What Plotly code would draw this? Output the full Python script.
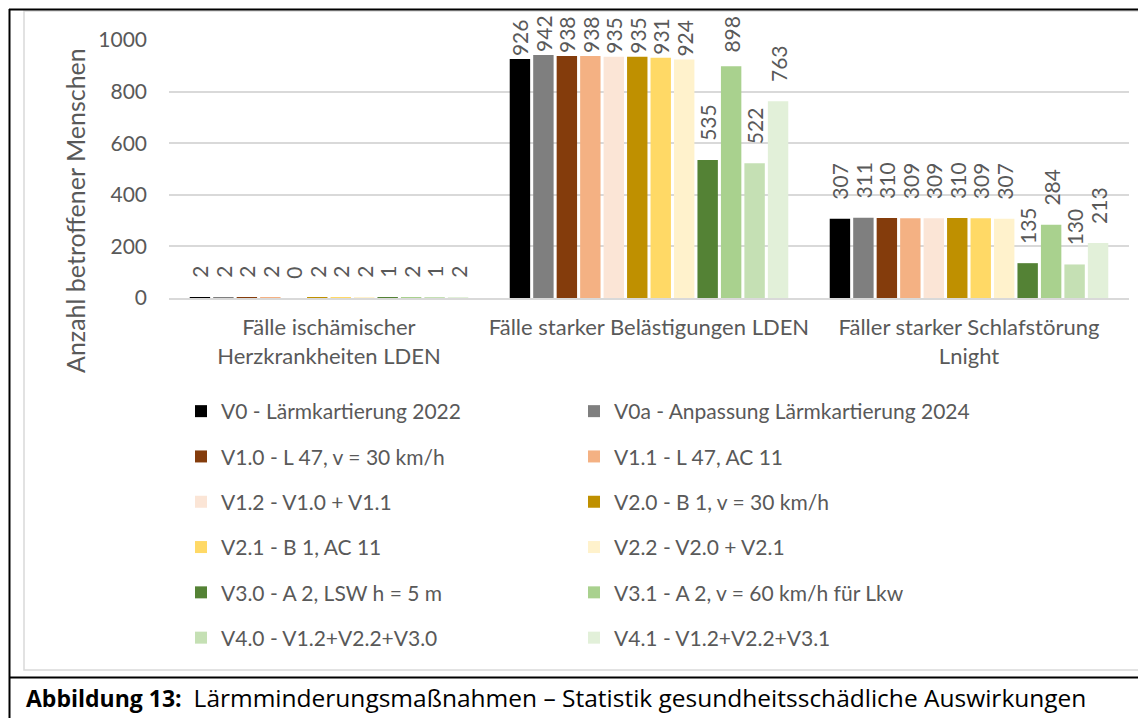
import plotly.graph_objects as go

W, H = 1138, 718

categories = [
    "Fälle ischämischer<br>Herzkrankheiten LDEN",
    "Fälle starker Belästigungen LDEN",
    "Fäller starker Schlafstörung<br>Lnight",
]
series_names = [
    "V0 - Lärmkartierung 2022",
    "V0a - Anpassung Lärmkartierung 2024",
    "V1.0 - L 47, v = 30 km/h",
    "V1.1 - L 47, AC 11",
    "V1.2 - V1.0 + V1.1",
    "V2.0 - B 1, v = 30 km/h",
    "V2.1 - B 1, AC 11",
    "V2.2 - V2.0 + V2.1",
    "V3.0 - A 2, LSW h = 5 m",
    "V3.1 - A 2, v = 60 km/h für Lkw",
    "V4.0 - V1.2+V2.2+V3.0",
    "V4.1 - V1.2+V2.2+V3.1",
]
herz = [2, 2, 2, 2, 0, 2, 2, 2, 1, 2, 1, 2]
belaest = [926, 942, 938, 938, 935, 935, 931, 924, 535, 898, 522, 763]
schlaf = [307, 311, 310, 309, 309, 310, 309, 307, 135, 284, 130, 213]
colors = [
    "#000000", "#7f7f7f", "#843c0c", "#f4b183", "#fbe5d6", "#bf9000",
    "#ffd966", "#fff2cc", "#548235", "#a9d18e", "#c5e0b4", "#e2f0d9",
]
y_ticks = [0, 200, 400, 600, 800, 1000]
y_title = "Anzahl betroffener Menschen"
caption_bold = "Abbildung 13:"
caption_text = "Lärmminderungsmaßnahmen – Statistik gesundheitsschädliche Auswirkungen"

FONT = "Lato, Roboto, sans-serif"
GREY = "#595959"
FS = 21

# plot area in pixels
PLOT_L, PLOT_R, PLOT_T, PLOT_B = 169, 1129, 40, 298
Y_MAX = 1000


def px_x(p):
    return p / W


def px_y(p):
    return 1 - p / H


def label(v):
    # Excel keeps rotated labels inside the chart area: the gap above the bar
    # shrinks when the bar reaches close to the top.
    bar_top = PLOT_B - v / Y_MAX * (PLOT_B - PLOT_T)
    gap = min(16.0, bar_top - 55.0)
    n = int(round(max(0.0, gap - 3.0) / 4.2))
    n = max(0, min(3, n))
    return "\u00a0" * n + str(v)


fig = go.Figure()
for i, name in enumerate(series_names):
    vals = [herz[i], belaest[i], schlaf[i]]
    fig.add_trace(go.Bar(
        x=categories,
        y=vals,
        name=name,
        marker=dict(color=colors[i], line=dict(width=0)),
        text=[label(v) for v in vals],
        textposition="outside",
        textangle=-90,
        textfont=dict(family=FONT, size=FS, color=GREY),
        constraintext="none",
        cliponaxis=False,
        legendgroup=name,
        legend="legend" if i % 2 == 0 else "legend2",
    ))

fig.update_layout(
    width=W, height=H,
    autosize=False,
    margin=dict(l=0, r=0, t=0, b=0, pad=0, autoexpand=False),
    paper_bgcolor="white",
    plot_bgcolor="white",
    barmode="group",
    bargap=0.12,
    bargroupgap=0.13,
    font=dict(family=FONT, size=FS, color=GREY),
    showlegend=True,
    legend=dict(
        x=px_x(181), y=px_y(391), xanchor="left", yanchor="top",
        orientation="v", tracegroupgap=15,
        font=dict(family=FONT, size=FS, color=GREY),
        bgcolor="rgba(0,0,0,0)",
    ),
    legend2=dict(
        x=px_x(574), y=px_y(391), xanchor="left", yanchor="top",
        orientation="v", tracegroupgap=15,
        font=dict(family=FONT, size=FS, color=GREY),
        bgcolor="rgba(0,0,0,0)",
    ),
    xaxis=dict(
        domain=[px_x(PLOT_L), px_x(PLOT_R)],
        automargin=False,
        showgrid=False,
        showline=True, linecolor="#d9d9d9", linewidth=1.5,
        ticks="",
        ticklabelstandoff=9,
        tickfont=dict(family=FONT, size=22, color=GREY),
    ),
    yaxis=dict(
        domain=[px_y(PLOT_B), px_y(PLOT_T)],
        automargin=False,
        range=[0, Y_MAX],
        tickvals=y_ticks,
        showgrid=True, gridcolor="#d9d9d9", gridwidth=1.5,
        zeroline=False,
        showline=False,
        ticks="",
        ticklabelstandoff=21,
        tickfont=dict(family=FONT, size=FS, color=GREY),
    ),
)

# y-axis title
fig.add_annotation(
    xref="paper", yref="paper", x=px_x(75), y=px_y(211),
    text=y_title, textangle=-90, showarrow=False,
    font=dict(family=FONT, size=25, color=GREY),
    xanchor="center", yanchor="middle",
)

# caption
fig.add_annotation(
    xref="paper", yref="paper", x=px_x(24), y=px_y(697),
    text="<b>" + caption_bold + "</b>\u00a0 <span style='font-size:24.5px'>" + caption_text + "</span>",
    showarrow=False, xanchor="left", yanchor="middle",
    font=dict(family="Open Sans, DejaVu Sans, sans-serif", size=23, color="black"),
)

# chart area border (light grey)
fig.add_shape(type="rect", xref="paper", yref="paper",
              x0=px_x(24), x1=px_x(1145), y0=px_y(670), y1=px_y(11),
              line=dict(color="#d9d9d9", width=1.5), fillcolor="rgba(0,0,0,0)", layer="below")
# black frame lines
for (x0, y0, x1, y1) in [(9, 9.5, 1140, 9.5), (9.5, 9, 9.5, 720), (9, 677.5, 1140, 677.5)]:
    fig.add_shape(type="line", xref="paper", yref="paper",
                  x0=px_x(x0), x1=px_x(x1), y0=px_y(y0), y1=px_y(y1),
                  line=dict(color="black", width=2))

post = (
    "document.documentElement.style.margin='0';"
    "document.documentElement.style.overflow='hidden';"
    "document.body.style.margin='0';"
    "document.body.style.overflow='hidden';"
    "var d=document.getElementById('{plot_id}');"
    "d.style.position='fixed';d.style.top='0px';d.style.left='0px';"
)
fig.write_html(
    "out.html",
    config={"responsive": False, "displayModeBar": False},
    post_script=post,
)
